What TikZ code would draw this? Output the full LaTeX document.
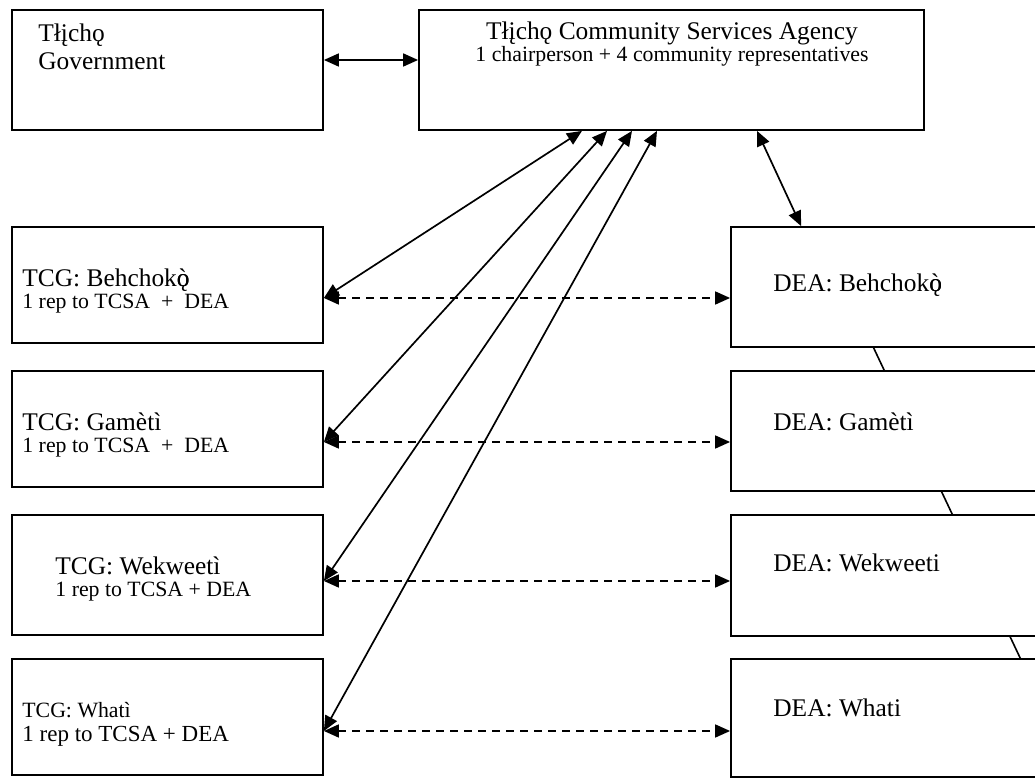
\documentclass[tikz,border=0pt]{standalone}
\usepackage{fontspec}
\setmainfont{Liberation Serif}
\usetikzlibrary{arrows.meta,backgrounds,fit}
\newcommand{\bigtext}{\fontsize{12.7}{14}\selectfont}
\newcommand{\smalltext}{\fontsize{10.9}{11}\selectfont}
\newcommand{\boxline}{0.9pt}
\newcommand{\behchoko}{Behchok\rlap{ǫ}ò}

\begin{document}
\begin{tikzpicture}[x=0.5pt,y=-0.5pt,
  >={Triangle[length=7.5pt,width=6.5pt]},
  box/.style={draw, fill=white, line width=\boxline, inner sep=0pt},
  txt/.style={inner sep=0pt, anchor=north west, align=left},
  link/.style={<->, line width=0.85pt},
  dlink/.style={link, dash pattern=on 4pt off 3pt}]
\useasboundingbox (0,0) rectangle (1035,779);
% top row
\node[box, fit={(12,10) (323,130)}] (gov) {};
\node[box, fit={(419,10) (924,130)}] (tcsa) {};
% left column
\node[box, fit={(12,227) (323,343)}] (tcgB) {};
\node[box, fit={(12,371) (323,487)}] (tcgG) {};
\node[box, fit={(12,515) (323,635)}] (tcgW) {};
\node[box, fit={(12,659) (323,775)}] (tcgH) {};
% right column
\node[box, fit={(731,227) (1045,347)}] (deaB) {};
\node[box, fit={(731,371) (1045,491)}] (deaG) {};
\node[box, fit={(731,515) (1045,636)}] (deaW) {};
\node[box, fit={(731,659) (1045,777)}] (deaH) {};
% texts
\node[txt, font=\bigtext] (govtext) at (38,23) {Tłįchǫ\\Government};
\node[txt, font=\bigtext, anchor=north, align=center] (tcsatext) at (672,21)
  {Tłįchǫ Community Services Agency\\[-3pt]{\smalltext 1 chairperson + 4 community representatives}};
\node[txt, font=\bigtext] (tcgBtext) at (22,268) {TCG: \behchoko\\[-2.8pt]{\smalltext 1 rep to TCSA\ \ +\ \ DEA}};
\node[txt, font=\bigtext] (tcgGtext) at (22,412) {TCG: Gamètì\\[-2.8pt]{\smalltext 1 rep to TCSA\ \ +\ \ DEA}};
\node[txt, font=\bigtext] (tcgWtext) at (55,556) {TCG: Wekweetì\\[-2.8pt]{\smalltext 1 rep to TCSA + DEA}};
\node[txt, font=\smalltext] (tcgHtext) at (22,702) {TCG: Whatì\\[1pt]{\fontsize{11.5}{12}\selectfont 1 rep to TCSA + DEA}};
\node[txt, font=\bigtext] (deaBtext) at (773,273) {DEA: \behchoko};
\node[txt, font=\bigtext] (deaGtext) at (773,412) {DEA: Gamètì};
\node[txt, font=\bigtext] (deaWtext) at (773,553) {DEA: Wekweeti};
\node[txt, font=\bigtext] (deaHtext) at (773,698) {DEA: Whati};
% arrow ends on the TCG boxes
\coordinate (pB) at ([yshift=-6.5pt]tcgB.east);
\coordinate (pG) at ([yshift=-6.5pt]tcgG.east);
\coordinate (pW) at ([yshift=-3pt]tcgW.east);
\coordinate (pH) at ([yshift=-7pt]tcgH.east);
% connectors
\draw[link] ([yshift=5pt]gov.east) -- ([yshift=5pt]tcsa.west);
\draw[link] ([xshift=-44.75pt]tcsa.south) -- (pB);
\draw[link] ([xshift=-32.25pt]tcsa.south) -- (pG);
\draw[link] ([xshift=-19.75pt]tcsa.south) -- (pW);
\draw[link] ([xshift=-7.25pt]tcsa.south) -- (pH);
\draw[link] ([xshift=42.75pt]tcsa.south) -- ([xshift=35.5pt]deaB.north west);
\draw[dlink] (pB) -- (pB -| deaB.west);
\draw[dlink] (pG) -- (pG -| deaG.west);
\draw[dlink] (pW) -- (pW -| deaW.west);
\draw[dlink] (pH) -- (pH -| deaH.west);
% slanted line behind the DEA boxes
\coordinate (slantA) at (851,300);
\coordinate (slantB) at (1040,700);
\begin{scope}[on background layer]
\draw[line width=0.8pt] (slantA) -- (slantB);
\end{scope}
\end{tikzpicture}
\end{document}
